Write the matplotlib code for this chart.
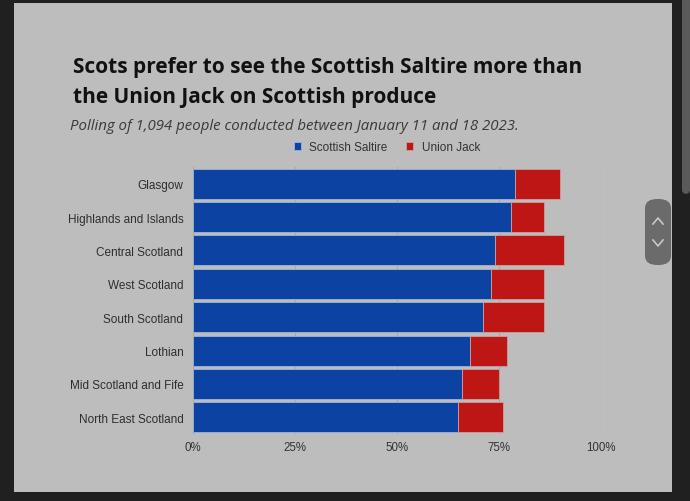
import matplotlib.pyplot as plt
from matplotlib.patches import FancyBboxPatch, Rectangle
from matplotlib.lines import Line2D

regions = ["Glasgow", "Highlands and Islands", "Central Scotland", "West Scotland",
           "South Scotland", "Lothian", "Mid Scotland and Fife", "North East Scotland"]
saltire = [79, 78, 74, 73, 71, 68, 66, 65]
union_jack = [11, 8, 17, 13, 15, 9, 9, 11]
xticks = [0, 25, 50, 75, 100]

BLUE = "#0c43a2"
RED = "#bd1614"
PANEL = "#bdbdbd"
DARK = "#202020"

fig = plt.figure(figsize=(6.9, 5.02), dpi=100)
fig.patch.set_facecolor(DARK)

W, H = 690, 502


def fx(px):
    return px / W


def fy(py):
    return 1 - py / H


# screenshot frame
fig.patches.append(Rectangle((fx(14), fy(493)), fx(672) - fx(14), fy(4) - fy(493),
                             transform=fig.transFigure, facecolor=PANEL, edgecolor="none", zorder=-2))
fig.patches.append(FancyBboxPatch((fx(682), fy(195)), fx(8), fy(0) - fy(195) + 0.02,
                                  boxstyle="round,pad=0,rounding_size=0.008",
                                  transform=fig.transFigure, facecolor="#5a5a5a", edgecolor="none", zorder=-2))
fig.patches.append(FancyBboxPatch((fx(645), fy(266)), fx(26), fy(200) - fy(266),
                                  boxstyle="round,pad=0,rounding_size=0.018",
                                  transform=fig.transFigure, facecolor="#6b6b6b", edgecolor="none", zorder=-1))
for cy, d in [(222, 1), (244, -1)]:
    fig.lines.append(Line2D([fx(653), fx(658), fx(663)], [fy(cy + 3 * d), fy(cy - 3 * d), fy(cy + 3 * d)],
                            transform=fig.transFigure, color="#c8c8c8", linewidth=1.2, zorder=5))

# titles
fig.text(fx(73), fy(68), "Scots prefer to see the Scottish Saltire more than",
         fontsize=15.0, fontweight="bold", family="Open Sans", color="#111111", va="center")
fig.text(fx(73), fy(97), "the Union Jack on Scottish produce",
         fontsize=15.0, fontweight="bold", family="Open Sans", color="#111111", va="center")
fig.text(fx(70), fy(126), "Polling of 1,094 people conducted between January 11 and 18 2023.",
         fontsize=10.8, style="italic", family="Open Sans", color="#3a3a3a", va="center")

ax = fig.add_axes([fx(193), fy(435), fx(601) - fx(193), fy(168) - fy(435)])
ax.set_zorder(2)
ax.set_facecolor(PANEL)
y = list(range(len(regions)))
ax.barh(y, saltire, height=0.9, color=BLUE, edgecolor="#9fb3d6", linewidth=0.6,
        label="Scottish Saltire", zorder=3)
ax.barh(y, union_jack, left=saltire, height=0.9, color=RED, edgecolor="#c9a0a0", linewidth=0.6,
        label="Union Jack", zorder=3)
ax.set_ylim(len(regions) - 0.5, -0.5)
ax.set_xlim(0, 100)
ax.set_yticks(y)
ax.set_yticklabels(regions, family="Liberation Sans", fontsize=8.5, color="#2e2e2e")
ax.set_xticks(xticks)
ax.set_xticklabels([f"{t}%" for t in xticks], family="Liberation Sans", fontsize=8.3, color="#333333")
ax.tick_params(axis="y", length=0, pad=7)
ax.tick_params(axis="x", length=0, pad=5)
ax.grid(axis="x", color="#a8a8a8", linewidth=0.8, zorder=0)
for s in ax.spines.values():
    s.set_visible(False)

leg = ax.legend(loc="center", bbox_to_anchor=(0.475, 1 + 20 / 267), ncol=2, frameon=False,
                prop={"family": "Liberation Sans", "size": 8.5}, handlelength=0.6, handleheight=0.6,
                handletextpad=0.7, columnspacing=1.6, borderaxespad=0)
for t in leg.get_texts():
    t.set_color("#333333")

fig.savefig("out.png", dpi=100, facecolor=DARK)
